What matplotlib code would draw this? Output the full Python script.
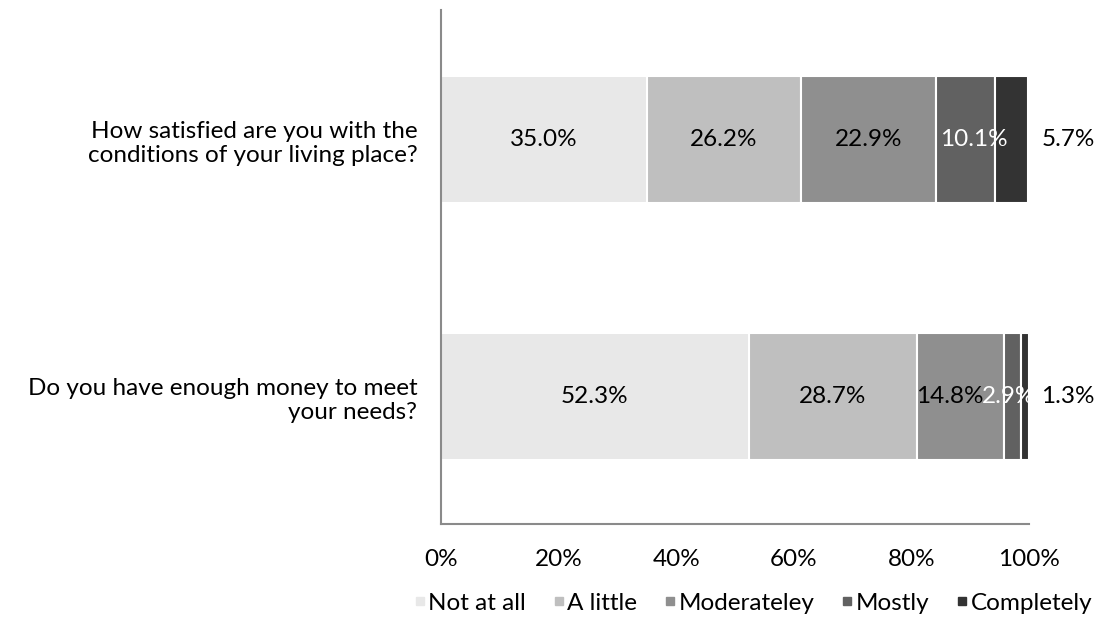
import matplotlib
matplotlib.use("Agg")
import matplotlib.pyplot as plt
from matplotlib.lines import Line2D

plt.rcParams['font.family'] = ['Lato', 'DejaVu Sans']

questions = ["How satisfied are you with the\nconditions of your living place?",
             "Do you have enough money to meet\nyour needs?"]
categories = ["Not at all", "A little", "Moderateley", "Mostly", "Completely"]
values = {
    "Not at all": [35.0, 52.3],
    "A little": [26.2, 28.7],
    "Moderateley": [22.9, 14.8],
    "Mostly": [10.1, 2.9],
    "Completely": [5.7, 1.3],
}
colors = ["#E8E8E8", "#BFBFBF", "#8F8F8F", "#616161", "#333333"]
label_colors = [["black", "black"], ["black", "black"], ["black", "black"],
                ["white", "white"], ["black", "black"]]
# small horizontal nudges (points) of the in-bar labels, as in the reference
label_nudge = [[0, 0], [0, 0], [0, -8], [6, -3], [0, 0]]
xticks = [0, 20, 40, 60, 80, 100]
xticklabels = ["0%", "20%", "40%", "60%", "80%", "100%"]

FS = 17.5

fig = plt.figure(figsize=(11.01, 6.19), dpi=100)
ax = fig.add_axes([441/1101, 1-524/619, (1029-441)/1101, 514/619])

ypos = [0, 1]
left = [0.0, 0.0]
for ci, cat in enumerate(categories):
    vals = values[cat]
    ax.barh(ypos, vals, left=left, height=0.494, color=colors[ci],
            edgecolor="white", linewidth=1.5)
    for qi in range(len(ypos)):
        v = vals[qi]
        if ci == len(categories) - 1:
            ax.annotate(f"{v:.1f}%", (100, ypos[qi]), xytext=(9, 0),
                        textcoords="offset points", ha="left", va="center",
                        fontsize=FS, color="black")
        else:
            ax.annotate(f"{v:.1f}%", (left[qi] + v / 2, ypos[qi]),
                        xytext=(label_nudge[ci][qi], 0), textcoords="offset points",
                        ha="center", va="center", fontsize=FS,
                        color=label_colors[ci][qi])
    left = [left[i] + vals[i] for i in range(len(vals))]

ax.set_xlim(0, 100)
ax.set_ylim(1.496, -0.504)
ax.set_yticks(ypos)
ax.set_yticklabels(questions, fontsize=FS, ha="right")
ax.set_xticks(xticks)
ax.set_xticklabels(xticklabels, fontsize=FS)
ax.tick_params(axis="both", length=0)
ax.tick_params(axis="y", pad=17)
ax.tick_params(axis="x", pad=18)
for s in ["top", "right"]:
    ax.spines[s].set_visible(False)
for s in ["left", "bottom"]:
    ax.spines[s].set_color("#8a8a8a")
    ax.spines[s].set_linewidth(1.5)

handles = [Line2D([0], [0], marker="s", linestyle="none", markersize=6,
                  markerfacecolor=c, markeredgecolor=c) for c in colors]
fig.legend(handles, categories, loc="center", bbox_to_anchor=(753/1101, 1-603/619),
           ncol=5, frameon=False, fontsize=FS, handlelength=0.5,
           handletextpad=0.1, columnspacing=1.1)

fig.savefig("out.png", dpi=100)
